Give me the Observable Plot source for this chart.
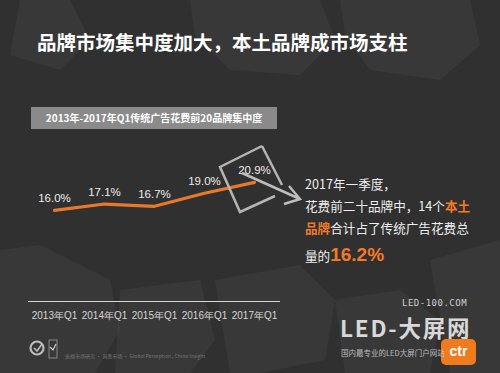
<!DOCTYPE html>
<html><head><meta charset="utf-8">
<script src="https://cdn.jsdelivr.net/npm/d3@7"></script>
<script src="https://cdn.jsdelivr.net/npm/@observablehq/plot@0.6"></script>
<style>
html,body{margin:0;padding:0;background:#2f2f2f;}
#wrap{position:relative;width:500px;height:373px;overflow:hidden;background:#303030;font-family:"Noto Sans CJK SC","Noto Sans",sans-serif;}
.abs{position:absolute;white-space:nowrap;}
#title{left:37px;top:30px;font-size:19.5px;font-weight:bold;color:#fff;line-height:24px;}
#banner{left:31px;top:107px;width:246px;height:22px;background:#8a8a8a;color:#fff;font-size:10px;font-weight:bold;line-height:22px;text-align:center;}
.note{left:305px;font-size:12.6px;color:#efefef;line-height:16px;}
.or{color:#f07a26;font-weight:bold;}
#chart{position:absolute;left:0;top:130px;}
</style></head>
<body><div id="wrap">
<svg class="abs" style="left:0;top:0" width="500" height="373">
  <g fill="#ffffff" fill-opacity="0.045">
    <polygon points="20,0 70,0 90,40 60,70 10,55"/>
    <polygon points="190,0 320,0 335,40 300,75 230,70 195,35"/>
    <polygon points="340,0 470,0 480,45 440,80 370,70 345,35"/>
    <polygon points="0,250 40,245 110,280 120,330 95,373 0,373"/>
    <polygon points="120,290 200,280 215,340 190,373 115,373"/>
    <polygon points="215,280 300,265 335,300 325,360 260,373 230,373"/>
    <polygon points="335,300 400,290 440,320 430,373 345,373"/>
    <polygon points="430,260 500,240 500,373 450,373"/>
  </g>
</svg>
<div id="title" class="abs">品牌市场集中度加大，本土品牌成市场支柱</div>
<div id="banner" class="abs">2013年-2017年Q1传统广告花费前20品牌集中度</div>
<div id="chart"></div>
<svg class="abs" style="left:0;top:0" width="500" height="373">
  <path d="M262,146 L220,167 L240,212 L275,196 M262,146 L282,185" fill="none" stroke="#b4b4b4" stroke-width="2.5" stroke-linejoin="miter"/>
  <path d="M242,173 L300,199 M289,186 L300,199 L284,204" fill="none" stroke="#bdbdbd" stroke-width="2.5"/>
</svg>
<div class="abs note" style="top:176px">2017年一季度，</div>
<div class="abs note" style="top:198px">花费前二十品牌中，14个<span class="or">本土</span></div>
<div class="abs note" style="top:220px"><span class="or">品牌</span>合计占了传统广告花费总</div>
<div class="abs note" style="top:247px">量的<span class="or" style="font-family:'Liberation Sans',Arial,sans-serif;font-size:19px;">16.2%</span></div>
<svg class="abs" style="left:28px;top:338px" width="30" height="22">
  <circle cx="9" cy="10" r="6.5" fill="none" stroke="#bbb" stroke-width="2.2"/>
  <path d="M6,10 L9,13 L14,6" fill="none" stroke="#bbb" stroke-width="1.6"/>
  <rect x="21" y="2" width="8" height="18" fill="none" stroke="#888" stroke-width="1"/>
  <path d="M22,9 L25,12 L28,6" fill="none" stroke="#ccc" stroke-width="1.2"/>
</svg>
<div class="abs" style="left:65px;top:352px;font-size:5px;color:#777;">央视市场研究 · 洞悉市场 · Global Perception , China Insight</div>
<div class="abs" style="left:402px;top:298px;font-size:9px;line-height:10px;color:#cfcfcf;font-family:'DejaVu Sans Mono',monospace;letter-spacing:0.5px;">LED-100.COM</div>
<div class="abs" style="left:340px;top:316px;font-size:22.5px;line-height:22px;font-weight:bold;color:#d8d8d8;letter-spacing:1.8px;">LED-大屏网</div>
<div class="abs" style="left:441px;top:339px;width:35px;height:26px;background:#f07a1e;border-radius:5px;color:#fff;font-weight:bold;font-size:14px;line-height:25px;text-align:center;font-family:'Liberation Sans',Arial,sans-serif;">ctr</div>
<div class="abs" style="left:341px;top:348px;font-size:7.5px;line-height:10px;color:#d0d0d0;opacity:0.85;">国内最专业的LED大屏门户网站</div>
</div>
<script>
const quarters = ["2013年Q1","2014年Q1","2015年Q1","2016年Q1","2017年Q1"];
const shares = [16.0, 17.1, 16.7, 19.0, 20.9];
const shareLabels = ["16.0%","17.1%","16.7%","19.0%","20.9%"];
const data = quarters.map((q,i)=>({q, v: shares[i], label: shareLabels[i]}));
const chart = Plot.plot({
  width: 310, height: 200,
  marginLeft: 28, marginRight: 30, marginTop: 0, marginBottom: 29,
  style: {background: "transparent", color: "#dcdcdc", fontFamily: "'Liberation Sans', Arial, sans-serif"},
  x: {type: "point", domain: quarters, padding: 0.5, label: null},
  y: {domain: [0, 30], axis: null},
  marks: [
    Plot.ruleY([0], {stroke: "#d8d8d8", strokeWidth: 1.2}),
    Plot.axisX({tickSize: 0, tickPadding: 10, fontSize: 10, fill: "#d6d6d6", label: null}),
    Plot.line(data, {x: "q", y: "v", stroke: "#e8782a", strokeWidth: 3.2}),
    Plot.text(data, {x: "q", y: "v", text: "label", dy: -12, fill: "#ececec", fontSize: 11.5})
  ]
});
document.getElementById("chart").appendChild(chart);
</script>
</body></html>
